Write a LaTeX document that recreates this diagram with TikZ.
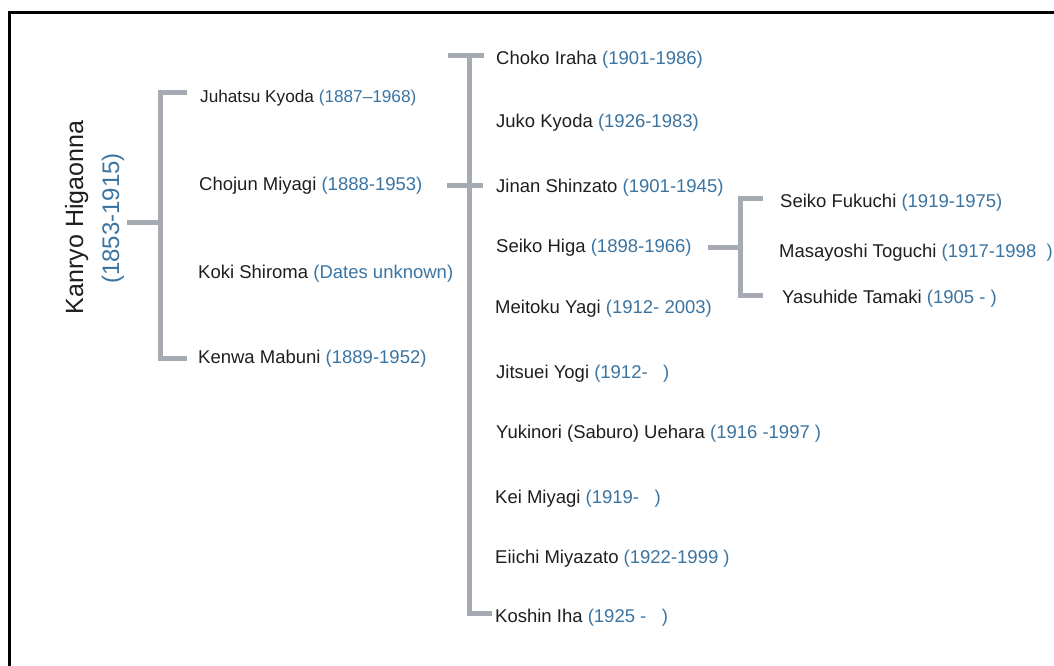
\documentclass[tikz,border=0pt]{standalone}
\usepackage{fontspec}
\setmainfont{Liberation Sans}
\definecolor{brk}{HTML}{A6AAB2}
\definecolor{dtc}{HTML}{3A74A2}
\definecolor{nmc}{HTML}{1E1E1E}
\newcommand{\dt}[1]{\textcolor{dtc}{#1}}
\begin{document}
\begin{tikzpicture}[x=1pt,y=-1pt,
  nm/.style={anchor=base west,inner sep=0pt,text=nmc,font=\fontsize{18.5}{22}\selectfont},
  rootname/.style={anchor=base,inner sep=0pt,rotate=90,text=nmc,font=\fontsize{25}{30}\selectfont},
  br/.style={draw=brk,line width=5pt,line cap=butt,line join=miter}]
\useasboundingbox (0,0) rectangle (1054,666);
\draw[line width=3pt,line join=miter] (9.5,668) -- (9.5,12.5) -- (1056,12.5);
% root
\node[rootname] (root) at (83,217.5) {Kanryo Higaonna};
\node[rootname,text=dtc,font=\fontsize{24}{28}\selectfont] (rootd) at (119,218.5) {(1853-1915)};
% generation 1
\node[nm,font=\fontsize{17.2}{20}\selectfont] (juhatsu) at (200,102.5) {Juhatsu Kyoda \dt{(1887–1968)}};
\node[nm] (chojun) at (199,190) {Chojun Miyagi \dt{(1888-1953)}};
\node[nm] (koki) at (198,278) {Koki Shiroma \dt{(Dates unknown)}};
\node[nm] (kenwa) at (198,363) {Kenwa Mabuni \dt{(1889-1952)}};
% generation 2
\node[nm] (choko) at (496,65) {Choko Iraha \dt{(1901-1986)}};
\node[nm] (juko) at (496,128) {Juko Kyoda \dt{(1926-1983)}};
\node[nm] (jinan) at (496,192) {Jinan Shinzato \dt{(1901-1945)}};
\node[nm] (seiko) at (496,252) {Seiko Higa \dt{(1898-1966)}};
\node[nm] (meitoku) at (495,313) {Meitoku Yagi \dt{(1912- 2003)}};
\node[nm] (jitsuei) at (496,378) {Jitsuei Yogi \dt{(1912-\ \ \ )}};
\node[nm] (yukinori) at (496,438) {Yukinori (Saburo) Uehara \dt{(1916 -1997 )}};
\node[nm] (kei) at (495,503) {Kei Miyagi \dt{(1919-\ \ \ )}};
\node[nm] (eiichi) at (495,563) {Eiichi Miyazato \dt{(1922-1999 )}};
\node[nm] (koshin) at (495,622) {Koshin Iha \dt{(1925 -\ \ \ )}};
% generation 3
\node[nm] (fukuchi) at (780,207) {Seiko Fukuchi \dt{(1919-1975)}};
\node[nm] (toguchi) at (779,257) {Masayoshi Toguchi \dt{(1917-1998\ \ )}};
\node[nm] (tamaki) at (782,303) {Yasuhide Tamaki \dt{(1905 - )}};
% bracket joints
\coordinate (r0) at (127,222.5);
\coordinate (r1) at (160,222.5);
\coordinate (a1) at (187,93);
\coordinate (a4) at (187,358);
\coordinate (c0) at (447,185);
\coordinate (c1) at (469,185);
\coordinate (c2) at (483,185);
\coordinate (t0) at (448,56);
\coordinate (t1) at (469,56);
\coordinate (t2) at (484,56);
\coordinate (bb) at (492,613);
\coordinate (s0) at (708,247);
\coordinate (s1) at (740,247);
\coordinate (f1) at (763,198);
\coordinate (f3) at (763,295);
% connectors
\draw[br] (r0) -- (r1);
\draw[br] (a1) -| (r1) |- (a4);
\draw[br] (t0) -- (t2);
\draw[br] (t1) |- (bb);
\draw[br] (c0) -- (c2);
\draw[br] (s0) -- (s1);
\draw[br] (f1) -| (s1) |- (f3);
\end{tikzpicture}
\end{document}
